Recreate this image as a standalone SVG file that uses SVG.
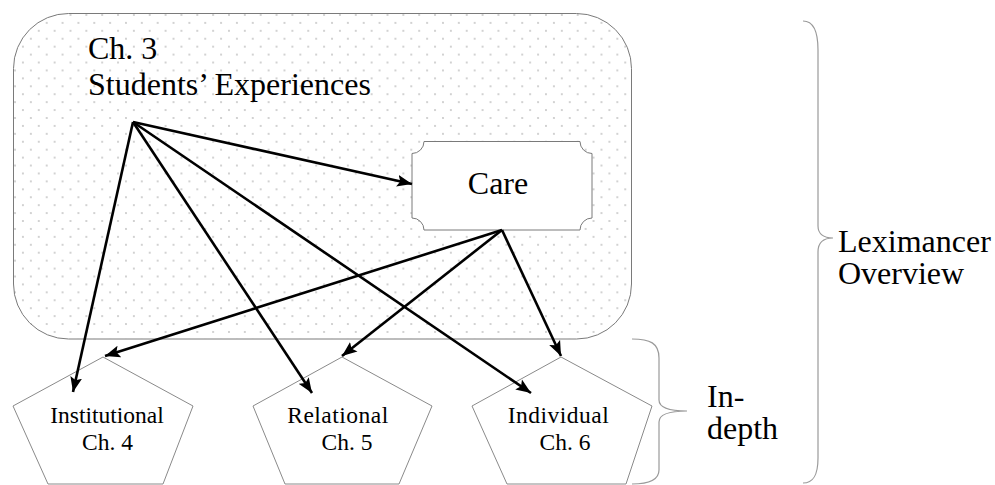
<svg xmlns="http://www.w3.org/2000/svg" width="995" height="485" viewBox="0 0 995 485">
<defs>
<pattern id="dots" patternUnits="userSpaceOnUse" x="3.14" y="11" width="15.85" height="15.85">
<circle cx="3.96" cy="3.96" r="0.9" fill="#bdbdbd"/>
<circle cx="11.89" cy="11.89" r="0.9" fill="#bdbdbd"/>
</pattern>
<marker id="ah" markerUnits="userSpaceOnUse" markerWidth="17" markerHeight="13" refX="15" refY="6.5" orient="auto">
<path d="M0,0.5 L15,6.5 L0,12.5 L3,6.5 Z" fill="#000"/>
</marker>
<style>
.t{font-family:"Liberation Serif","Times New Roman",serif;fill:#000}
.big{font-size:32px}
.sm{font-size:23.5px}
.pent{fill:#fff;stroke:#8a8a8a;stroke-width:1}
.brace{fill:none;stroke:#9a9a9a;stroke-width:1.2}
.c{fill:none;stroke:#000;stroke-width:2.6;marker-end:url(#ah)}
</style>
</defs>
<g id="overview">
<rect x="13.5" y="13.5" width="618" height="325.5" rx="55" ry="55" fill="url(#dots)" stroke="#7a7a7a" stroke-width="1"/>
<text class="t big" x="88" y="58.5">Ch. 3</text>
<text class="t big" x="88" y="95">Students’ Experiences</text>
</g>
<g id="care">
<path d="M424 141.5 L580 141.5 A12 12 0 0 0 592 153.5 L592 218 A12 12 0 0 0 580 230 L424 230 A12 12 0 0 0 412 218 L412 153.5 A12 12 0 0 0 424 141.5 Z" fill="#fff" stroke="#7a7a7a" stroke-width="1"/>
<text class="t big" x="498" y="194" text-anchor="middle">Care</text>
</g>
<g id="institutional">
<polygon class="pent" points="103,357 193,406 163,484 48,484 13,406"/>
<text class="t sm" x="107" y="423" text-anchor="middle">Institutional</text>
<text class="t sm" x="107.5" y="450" text-anchor="middle">Ch. 4</text>
</g>
<g id="relational">
<polygon class="pent" points="342,357 432,406 399,484 285,484 253,406"/>
<text class="t sm" x="338" y="423" text-anchor="middle" letter-spacing="0.5">Relational</text>
<text class="t sm" x="347" y="450" text-anchor="middle">Ch. 5</text>
</g>
<g id="individual">
<polygon class="pent" points="561,357 652,406 626,484 507,484 472,406"/>
<text class="t sm" x="558.5" y="423" text-anchor="middle" letter-spacing="0.5">Individual</text>
<text class="t sm" x="565" y="450" text-anchor="middle">Ch. 6</text>
</g>
<g id="indepth">
<path class="brace" d="M632 339 C650 339 659 343 659 358 L659 400 C659 408 670 411 687 411 C670 411 659 414 659 422 L659 470 C659 480 650 484 632 484"/>
<text class="t big" x="707" y="407">In-</text>
<text class="t big" x="707" y="439">depth</text>
</g>
<g id="leximancer">
<path class="brace" d="M803 21 C813 21 818 30 818 50 L818 226 C818 234 824 238 833 238 C824 238 818 242 818 252 L818 458 C818 476 813 483 803 483"/>
<text class="t big" x="838" y="252">Leximancer</text>
<text class="t big" x="838" y="284">Overview</text>
</g>
<g id="connectors">
<line class="c" x1="133" y1="122" x2="412" y2="184"/>
<line class="c" x1="133" y1="122" x2="73" y2="392"/>
<line class="c" x1="133" y1="122" x2="312" y2="393"/>
<line class="c" x1="133" y1="122" x2="531" y2="393"/>
<line class="c" x1="502" y1="230" x2="105" y2="356"/>
<line class="c" x1="502" y1="230" x2="342" y2="356"/>
<line class="c" x1="502" y1="230" x2="561" y2="356"/>
</g>
</svg>
